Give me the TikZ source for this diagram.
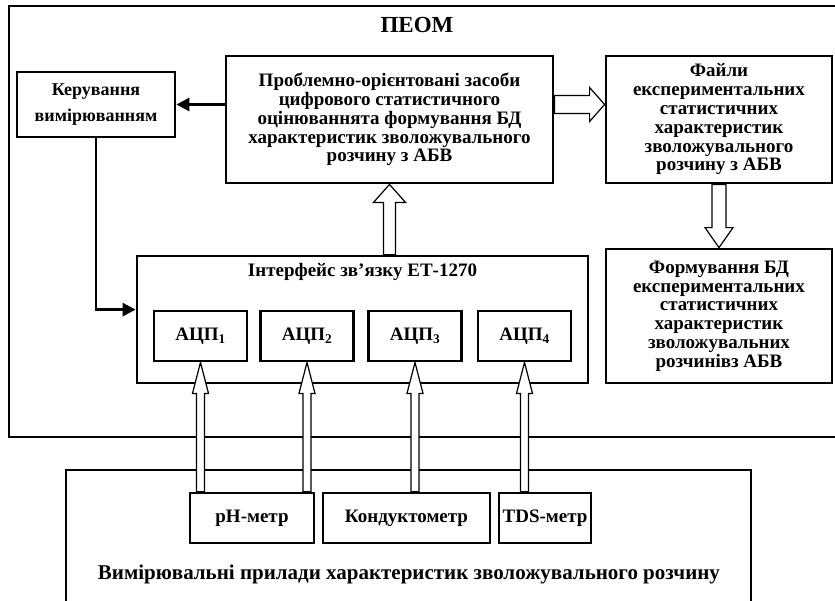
\documentclass[tikz,border=0pt]{standalone}
\usepackage{fontspec}
\setmainfont{Liberation Serif}
\usetikzlibrary{calc,arrows.meta}

\newcommand{\hollowarrow}[5]{%
  \path let \p1=(#1), \p2=(#2) in \pgfextra{%
    \pgfmathsetmacro{\harrang}{atan2(\y2-\y1,\x2-\x1)}%
    \pgfmathsetmacro{\harrlen}{veclen(\x2-\x1,\y2-\y1)}%
    \xdef\harrang{\harrang}\xdef\harrlen{\harrlen}};
  \draw[hollow,shift={(#1)},rotate=\harrang] (0pt,-#3) -- (\harrlen pt-#5,-#3) -- (\harrlen pt-#5,-#4)
    -- (\harrlen pt,0pt) -- (\harrlen pt-#5,#4) -- (\harrlen pt-#5,#3) -- (0pt,#3) -- cycle;}

\begin{document}
\begin{tikzpicture}[x=1pt,y=-1pt,line join=miter,>={Triangle[length=13pt,width=13pt]}]
	\tikzset{every node/.style={font=\bfseries\fontsize{19}{18.8}\selectfont,align=center,inner sep=0pt}}
	\tikzset{block/.style={draw,line width=2.8pt},frame/.style={line width=1.2pt},
		hollow/.style={draw,line width=1.2pt,fill=white},link/.style={line width=2.8pt,->}}
	\useasboundingbox (0,0) rectangle (835,600);
	\draw[frame] (9,6) rectangle (840,437);
	\draw[frame] (66,470) rectangle (751,610);
	\node[font=\bfseries\fontsize{23}{26}\selectfont] (peom) at (417,25) {ПЕОМ};
	\node[block,minimum width=158,minimum height=65,font=\bfseries\fontsize{18}{26}\selectfont] (ker) at (96,104.5) {Керування\\вимірюванням};
	\node[block,minimum width=327,minimum height=127] (prob) at (389.5,119.5) {Проблемно-орієнтовані засоби\\цифрового статистичного\\оцінюваннята формування БД\\характеристик зволожувального\\розчину з АБВ};
	\node[block,minimum width=226,minimum height=127] (fil) at (719,119.5) {Файли\\експериментальних\\статистичних\\характеристик\\зволожувального\\розчину з АБВ};
	\node[block,minimum width=226,minimum height=134] (form) at (719,316) {Формування БД\\експериментальних\\статистичних\\характеристик\\зволожувальних\\розчинівз АБВ};
	\node[block,minimum width=451,minimum height=127] (iface) at (362.5,319.5) {};
	\node (ifacelbl) at (362.5,272) {Інтерфейс зв’язку ЕТ-1270};
	\foreach \i/\x in {1/200.5,2/307,3/415,4/524.5}
		\node[block,minimum width=93,minimum height=50] (adc\i) at (\x,336) {АЦП\textsubscript{\i}};
	\node[block,minimum width=124,minimum height=50] (ph) at (252,518) {pH-метр};
	\node[block,minimum width=167,minimum height=50] (kond) at (406.5,518) {Кондуктометр};
	\node[block,minimum width=92,minimum height=50] (tds) at (545,518) {TDS-метр};
	\node[font=\bfseries\fontsize{21}{24}\selectfont] (meas) at (409,574) {Вимірювальні прилади характеристик зволожувального розчину};
	\draw[link] (ker.east -| prob.west) -- (ker.east);
	\draw[link] (ker.south) |- (iface.west |- adc1.north);
	\hollowarrow{prob.south |- iface.north}{prob.south}{6pt}{16pt}{18pt}
	\hollowarrow{ker.east -| prob.east}{ker.east -| fil.west}{9pt}{17pt}{15pt}
	\hollowarrow{fil.south}{form.north}{7pt}{14pt}{20pt}
	\foreach \a/\d in {adc1/ph,adc2/ph,adc3/kond,adc4/tds}
		{\hollowarrow{\a.south |- \d.north}{\a.south}{4pt}{8pt}{31pt}}
\end{tikzpicture}
\end{document}
